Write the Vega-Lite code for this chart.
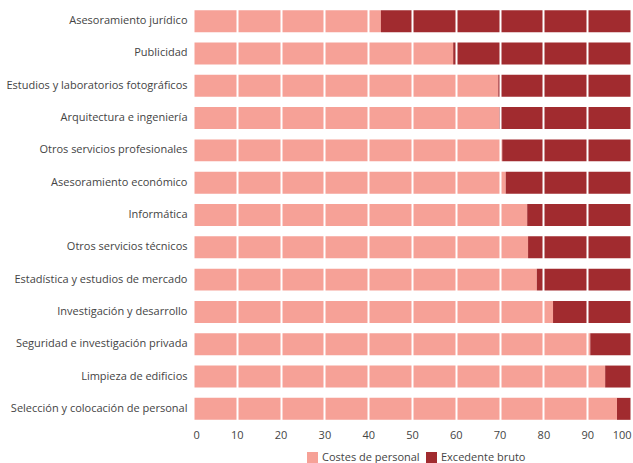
{
  "$schema": "https://vega.github.io/schema/vega-lite/v6.json",
  "autosize": "none",
  "padding": {"left": 193, "top": 5, "right": 2, "bottom": 38},
  "width": 438,
  "height": 420,
  "background": "white",
  "config": {
    "view": {"stroke": null},
    "font": "Open Sans",
    "axis": {"labelFont": "Open Sans", "labelColor": "#444444", "labelFontSize": 11},
    "legend": {"labelFont": "Open Sans", "labelColor": "#444444", "labelFontSize": 11}
  },
  "data": {
    "values": [
      {"sector": "Asesoramiento jurídico", "tipo": "Costes de personal", "valor": 42.9},
      {"sector": "Asesoramiento jurídico", "tipo": "Excedente bruto", "valor": 57.1},
      {"sector": "Publicidad", "tipo": "Costes de personal", "valor": 59.4},
      {"sector": "Publicidad", "tipo": "Excedente bruto", "valor": 40.6},
      {"sector": "Estudios y laboratorios fotográficos", "tipo": "Costes de personal", "valor": 69.7},
      {"sector": "Estudios y laboratorios fotográficos", "tipo": "Excedente bruto", "valor": 30.3},
      {"sector": "Arquitectura e ingeniería", "tipo": "Costes de personal", "valor": 69.9},
      {"sector": "Arquitectura e ingeniería", "tipo": "Excedente bruto", "valor": 30.1},
      {"sector": "Otros servicios profesionales", "tipo": "Costes de personal", "valor": 70.6},
      {"sector": "Otros servicios profesionales", "tipo": "Excedente bruto", "valor": 29.4},
      {"sector": "Asesoramiento económico", "tipo": "Costes de personal", "valor": 71.4},
      {"sector": "Asesoramiento económico", "tipo": "Excedente bruto", "valor": 28.6},
      {"sector": "Informática", "tipo": "Costes de personal", "valor": 76.3},
      {"sector": "Informática", "tipo": "Excedente bruto", "valor": 23.7},
      {"sector": "Otros servicios técnicos", "tipo": "Costes de personal", "valor": 76.5},
      {"sector": "Otros servicios técnicos", "tipo": "Excedente bruto", "valor": 23.5},
      {"sector": "Estadística y estudios de mercado", "tipo": "Costes de personal", "valor": 78.5},
      {"sector": "Estadística y estudios de mercado", "tipo": "Excedente bruto", "valor": 21.5},
      {"sector": "Investigación y desarrollo", "tipo": "Costes de personal", "valor": 82.2},
      {"sector": "Investigación y desarrollo", "tipo": "Excedente bruto", "valor": 17.8},
      {"sector": "Seguridad e investigación privada", "tipo": "Costes de personal", "valor": 90.7},
      {"sector": "Seguridad e investigación privada", "tipo": "Excedente bruto", "valor": 9.3},
      {"sector": "Limpieza de edificios", "tipo": "Costes de personal", "valor": 94.1},
      {"sector": "Limpieza de edificios", "tipo": "Excedente bruto", "valor": 5.9},
      {"sector": "Selección y colocación de personal", "tipo": "Costes de personal", "valor": 96.8},
      {"sector": "Selección y colocación de personal", "tipo": "Excedente bruto", "valor": 3.2}
    ]
  },
  "mark": {"type": "bar"},
  "encoding": {
    "y": {
      "field": "sector",
      "type": "nominal",
      "sort": null,
      "title": null,
      "scale": {"paddingInner": 0.32, "paddingOuter": 0.16},
      "axis": {"domain": false, "ticks": false, "labelPadding": 6, "labelLimit": 250}
    },
    "x": {
      "field": "valor",
      "type": "quantitative",
      "stack": "zero",
      "title": null,
      "scale": {"domain": [0, 100], "nice": false},
      "axis": {
        "values": [0, 10, 20, 30, 40, 50, 60, 70, 80, 90, 100],
        "domain": false,
        "ticks": false,
        "grid": true,
        "gridColor": "white",
        "gridWidth": 2,
        "gridOpacity": 1,
        "zindex": 1,
        "labelPadding": 4
      }
    },
    "color": {
      "field": "tipo",
      "type": "nominal",
      "scale": {"domain": ["Costes de personal", "Excedente bruto"], "range": ["#F6A197", "#A12B2F"]},
      "legend": {
        "orient": "none",
        "legendX": 113,
        "legendY": 446,
        "direction": "horizontal",
        "title": null,
        "symbolType": "square",
        "symbolSize": 121,
        "symbolOpacity": 1,
        "columnPadding": 5,
        "labelOffset": 3
      }
    },
    "order": {"field": "tipo", "sort": "ascending"}
  }
}
